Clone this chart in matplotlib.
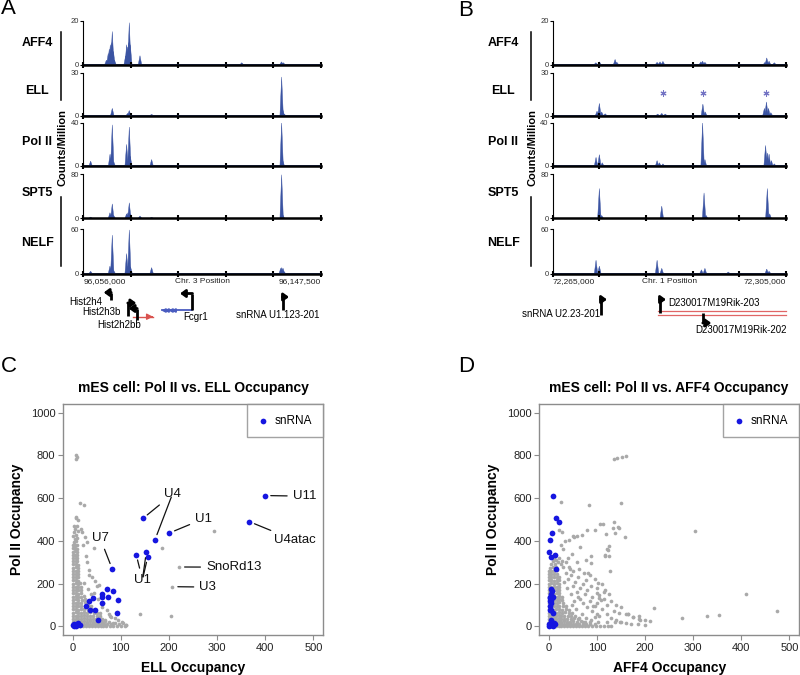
import matplotlib
matplotlib.use("Agg")
import matplotlib.pyplot as plt
from matplotlib.lines import Line2D
import numpy as np

plt.rcParams['font.family'] = ['Liberation Sans', 'DejaVu Sans']

W, H = 800, 675
TRACK_BLUE = '#3a53a2'
GRAY = '#a9a9a9'
SNRNA_BLUE = '#1616e0'
FRAME = '#8c8c8c'

# ---------------- genome browser tracks ----------------
track_names = ['AFF4', 'ELL', 'Pol II', 'SPT5', 'NELF']
track_ymax = [20, 30, 40, 80, 60]

# panel A, chr3 locus
a_start, a_end = 96056000, 96147500
a_aff4_pos = [96064900, 96065600, 96066000, 96066400, 96066800, 96067160, 96067600, 96068000,
              96072300, 96072680, 96073100, 96073400, 96073710, 96074100, 96077820,
              96117000, 96132300, 96133000]
a_aff4_val = [2, 5, 7, 9, 10, 15, 6, 2, 4, 9, 8, 10, 19, 9, 4, 0.8, 1.2, 0.8]
a_ell_pos = [96067160, 96073100, 96073700, 96082300, 96132350, 96132800, 96133300]
a_ell_val = [5, 1.5, 3.5, 0.8, 27, 4, 1]
a_pol2_pos = [96058820, 96066300, 96066700, 96067160, 96067700, 96072680, 96073710, 96074100,
              96082300, 96132350, 96132800]
a_pol2_val = [4.5, 11, 8, 38, 4, 20, 36, 9, 6, 40, 5]
a_spt5_pos = [96058820, 96066266, 96066700, 96067160, 96067700, 96072680, 96073200, 96073710,
              96074200, 96077820, 96082300, 96132350, 96132800]
a_spt5_val = [2, 10, 7, 26, 5, 8, 10, 28, 8, 4, 1.5, 79, 6]
a_nelf_pos = [96058820, 96066266, 96066700, 96067160, 96067700, 96072680, 96073200, 96073710,
              96074200, 96082300, 96132000, 96132400, 96132900, 96133300]
a_nelf_val = [3, 10, 8, 52, 4, 27, 10, 59, 9, 8, 7, 8, 7, 2]

# panel B, chr1 locus
b_start, b_end = 72265000, 72305000
b_aff4_pos = [72272400, 72273000, 72275700, 72276000, 72282900, 72283400, 72283900,
              72290400, 72290700, 72291100, 72301400, 72301700, 72302100, 72303000]
b_aff4_val = [0.8, 1.2, 2.3, 1, 1, 1.2, 1.4, 1.2, 1.5, 1, 1, 3, 1.5, 0.8]
b_ell_pos = [72272600, 72273000, 72273400, 72274000, 72283000, 72283700, 72284300,
             72290750, 72291150, 72301300, 72301650, 72302000, 72302400]
b_ell_val = [3, 8.5, 2.5, 1.2, 1, 1.5, 1, 8, 2.5, 5, 9.5, 5, 2]
b_pol2_pos = [72272430, 72273000, 72273500, 72282900, 72283300, 72283900, 72290700,
              72291100, 72301500, 72301800, 72302100, 72302500, 72303000]
b_pol2_val = [8, 10.5, 3, 5, 3, 2, 40, 6, 19, 12, 11, 5, 2]
b_spt5_pos = [72273000, 72273400, 72283700, 72290950, 72291300, 72301800, 72302200]
b_spt5_val = [54, 5, 22, 46, 5, 54, 8]
b_nelf_pos = [72272430, 72273000, 72282900, 72283700, 72290500, 72291100, 72295100,
              72301700, 72302100]
b_nelf_val = [18, 10, 18, 7, 5, 7, 2, 6, 3]
b_ell_star_pos = [72283971, 72290714, 72301571]
b_ell_star_val = [15.5, 15.5, 15.5]

# gene models
a_gene_names = ['Hist2h4', 'Hist2h3b', 'Hist2h2bb', 'Fcgr1', 'snRNA U1.123-201']
a_gene_tss = [96066546, 96073320, 96076554, 96097839, 96132865]
a_gene_strand = ['-', '+', '-', '-', '+']
a_red_body = (96075130, 96082827)
a_blue_body = (96086292, 96097839)
b_gene_names = ['snRNA U2.23-201', 'D230017M19Rik-203', 'D230017M19Rik-202']
b_gene_tss = [72273281, 72283397, 72290820]
b_gene_strand = ['+', '+', '+']
b_red_body = (72283054, 72305000)

# ---------------- scatter data ----------------
snrna_polii = [612, 490, 505, 405, 437, 336, 347, 325, 270,
               173, 166, 153, 138, 138, 125, 134, 119, 110, 97,
               78, 78, 61, 31, 8, 12, 10, 5, 3, 0, 14]
snrna_ell = [400, 367, 146, 171, 201, 132, 153, 156, 82,
             71, 83, 62, 61, 73, 95, 42, 35, 60, 28,
             47, 37, 92, 52, 16, 3, 10, 0, 6, 2, 12]
snrna_aff4 = [9, 22, 14, 3, 6, 12, 0, 4, 15,
              3.5, 7, 4, 2, 9, 5, 3, 2, 5, 3,
              2, 4, 9, 5, 6, 0, 12, 3, 8, 1, 10]

# other genes, (ELL, Pol II)
ell_gray = [
    (0, 0), (5, 1), (10, 0), (16, 2), (22, 0), (28, 1), (34, 0), (40, 2), (46, 1), (52, 0), (58, 2),
    (64, 1), (70, 0), (77, 3), (84, 1), (92, 2), (100, 4), (108, 2),
    (0, 11), (6, 12), (12, 10), (18, 11), (24, 12), (30, 10), (36, 11), (42, 12), (48, 10), (54, 12),
    (60, 11), (66, 13), (72, 10), (80, 12), (88, 14),
    (0, 23), (6, 24), (12, 22), (18, 23), (24, 24), (30, 22), (36, 24), (42, 23), (48, 22), (54, 24),
    (60, 23), (67, 25), (75, 22),
    (0, 36), (6, 37), (12, 35), (18, 36), (24, 38), (30, 36), (36, 35), (42, 37), (48, 36), (55, 38), (62, 35),
    (0, 50), (6, 51), (12, 49), (18, 50), (24, 52), (30, 50), (36, 49), (43, 51), (50, 50), (57, 48),
    (0, 65), (6, 66), (12, 64), (18, 65), (24, 67), (30, 64), (37, 66), (44, 63), (50, 65),
    (0, 80), (6, 81), (12, 79), (18, 80), (24, 82), (31, 79), (38, 81), (44, 78),
    (0, 95), (6, 96), (12, 94), (18, 95), (25, 97), (32, 94), (38, 96),
    (0, 110), (6, 111), (12, 109), (18, 110), (25, 112), (32, 108),
    (0, 125), (6, 126), (12, 124), (19, 125), (26, 127),
    (0, 140), (6, 141), (12, 139), (18, 140), (24, 142),
    (0, 155), (6, 156), (12, 154), (18, 156),
    (0, 170), (6, 171), (12, 169), (18, 171),
    (0, 185), (6, 186), (12, 184), (17, 186),
    (0, 200), (6, 201), (12, 199), (16, 202),
    (0, 215), (6, 216), (12, 214), (0, 230), (6, 231), (12, 229), (0, 245), (6, 246), (12, 244),
    (0, 260), (6, 261), (12, 259), (0, 275), (6, 276), (11, 274), (0, 290), (6, 291), (11, 289),
    (0, 305), (6, 306), (10, 304), (0, 320), (6, 321), (10, 319), (0, 335), (5, 336), (10, 334),
    (0, 350), (5, 351), (10, 349), (0, 365), (5, 366), (9, 364), (0, 380), (5, 381), (9, 379),
    (2, 395), (8, 398), (4, 410), (10, 412), (1, 425), (7, 428), (3, 440), (11, 445), (5, 455),
    (2, 470), (9, 468),
    (8, 800), (9, 790), (8, 781), (16, 578), (24, 566), (7, 514), (12, 498), (8, 508), (20, 440),
    (18, 455), (26, 420), (45, 369), (30, 395), (22, 380), (28, 330), (30, 300), (35, 265), (40, 232),
    (50, 190), (23, 203), (47, 211), (55, 195), (31, 175), (44, 156), (64, 109), (71, 78), (57, 62),
    (78, 47), (88, 39), (95, 30), (105, 15), (84, 17), (96, 10), (110, 7), (80, 46), (102, 20),
    (111, 5), (185, 369), (221, 278), (207, 186), (140, 57), (204, 50), (294, 447), (60, 90),
    (68, 30), (75, 60), (52, 130), (38, 150), (33, 240),
]

# other genes, (AFF4, Pol II)
aff4_gray = [
    (0, 0), (5, 1), (10, 0), (15, 2), (20, 0), (26, 1), (32, 0), (38, 2), (44, 1), (50, 0), (56, 2),
    (62, 1), (68, 0), (75, 2), (82, 1), (90, 3), (98, 1), (106, 2), (114, 4), (122, 2), (130, 3),
    (0, 11), (5, 12), (10, 10), (15, 11), (20, 12), (26, 10), (32, 11), (38, 12), (44, 10), (50, 12),
    (56, 11), (63, 13), (70, 10), (78, 12), (86, 11), (95, 13),
    (0, 23), (5, 24), (10, 22), (15, 23), (20, 24), (26, 22), (32, 24), (38, 23), (44, 22), (51, 24),
    (58, 23), (66, 25), (74, 22),
    (0, 36), (5, 37), (10, 35), (15, 36), (20, 38), (26, 36), (32, 35), (38, 37), (45, 36), (52, 38), (60, 35),
    (0, 50), (5, 51), (10, 49), (15, 50), (20, 52), (26, 50), (32, 49), (39, 51), (46, 50), (54, 48),
    (0, 65), (5, 66), (10, 64), (15, 65), (21, 67), (27, 64), (34, 66), (41, 63), (48, 65),
    (0, 80), (5, 81), (10, 79), (15, 80), (21, 82), (28, 79), (35, 81), (42, 78),
    (0, 95), (5, 96), (10, 94), (16, 95), (22, 97), (29, 94), (36, 96),
    (0, 110), (5, 111), (10, 109), (16, 110), (22, 112), (29, 108),
    (0, 125), (5, 126), (10, 124), (16, 125), (22, 127), (28, 124),
    (0, 140), (5, 141), (10, 139), (16, 140), (22, 142), (28, 139),
    (0, 155), (5, 156), (10, 154), (16, 156), (22, 155),
    (0, 170), (5, 171), (10, 169), (16, 171), (22, 170),
    (0, 185), (5, 186), (10, 184), (16, 186), (22, 185),
    (0, 200), (5, 201), (10, 199), (16, 202), (22, 200),
    (0, 215), (5, 216), (10, 214), (16, 215), (22, 217),
    (0, 230), (5, 231), (10, 229), (16, 230), (21, 232),
    (0, 245), (5, 246), (10, 244), (16, 246),
    (0, 260), (5, 261), (10, 259), (16, 262),
    (3, 275), (9, 278), (15, 276), (5, 290), (12, 292),
    (8, 305), (14, 310), (20, 318), (10, 322), (18, 300), (25, 290), (30, 280), (28, 305),
    (35, 300), (42, 280), (50, 260), (45, 240), (60, 230), (55, 210), (70, 200), (65, 180), (80, 170),
    (75, 150), (90, 140), (85, 120), (100, 110), (95, 95), (110, 80), (120, 60), (105, 50), (130, 40),
    (140, 30), (150, 20), (160, 15), (170, 10), (185, 12), (200, 5), (40, 320), (48, 340), (58, 300),
    (62, 270), (72, 250), (85, 240), (95, 220), (78, 215), (88, 190), (100, 180), (110, 200),
    (115, 160), (125, 150), (130, 120), (140, 100), (150, 90), (120, 100), (135, 70), (160, 60),
    (175, 45), (190, 30), (210, 25), (30, 360), (25, 380), (35, 250), (40, 220), (50, 190), (58, 160),
    (65, 130), (70, 110), (80, 90), (90, 70), (100, 60), (115, 130), (45, 150), (52, 120), (38, 180),
    (32, 210), (44, 270), (60, 140), (48, 100), (56, 80), (68, 60), (78, 40), (88, 30), (96, 45),
    (62, 40), (70, 20),
    (25, 580), (83, 569), (150, 575), (107, 478), (113, 480), (135, 489), (95, 453), (145, 458),
    (159, 419), (22, 450), (28, 442), (69, 427), (53, 419), (41, 406), (34, 400), (118, 430),
    (121, 361), (117, 330), (124, 330), (127, 258), (100, 156), (105, 133), (108, 122), (145, 63),
    (164, 56), (187, 49), (219, 88), (138, 20), (121, 20), (103, 20), (86, 20), (135, 784),
    (142, 786), (152, 790), (160, 795), (304, 447), (410, 153), (277, 39), (328, 47), (353, 55),
    (474, 72), (50, 422), (59, 425), (80, 450), (133, 461), (144, 464), (64, 372), (88, 331),
    (116, 333), (122, 356), (124, 378), (137, 437), (78, 312), (88, 297), (82, 250), (102, 203),
    (116, 169), (104, 148), (92, 94), (165, 58), (175, 44), (187, 34), (199, 28), (147, 23),
]

# labels in panel C: text, target points (ELL, Pol II)
c_label_text = ['U4', 'U1', 'U11', 'U4atac', 'U7', 'U1', 'SnoRd13', 'U3']
c_label_targets = [[(146, 505), (171, 405)], [(201, 437)], [(400, 612)], [(367, 490)],
                   [(82, 270)], [(132, 336), (153, 347), (156, 325)], [(221, 278)], [(207, 186)]]
# layout only: where each label sits
c_label_xy = [(207, 617), (254, 503), (457, 609), (418, 403), (57, 414), (145, 219), (277, 277), (263, 184)]
c_label_ha = ['center', 'left', 'left', 'left', 'center', 'center', 'left', 'left']


def fx(px):
    return px / W


def fy(py):
    return 1 - py / H


def box(px0, px1, top, bottom):
    return [px0 / W, 1 - bottom / H, (px1 - px0) / W, (bottom - top) / H]


fig = plt.figure(figsize=(8, 6.75), dpi=100)

track_rows = [(20.5, 64.5), (72.7, 115.5), (122.7, 166), (174.2, 218.2), (229.2, 273.5)]


def draw_tracks(px0, px1, start, end, positions, values, half_w, chrom, left_lab, right_lab):
    axes = []
    for i, (top, bottom) in enumerate(track_rows):
        ax = fig.add_axes(box(px0, px1, top, bottom))
        ymax = track_ymax[i]
        for p, v in zip(positions[i], values[i]):
            ax.fill([p - half_w, p, p + half_w], [0, v, 0], color=TRACK_BLUE, lw=0.3)
        ax.axhline(ymax * 0.015, color=TRACK_BLUE, lw=0.7)
        ax.set_xlim(start, end)
        ax.set_ylim(0, ymax)
        ax.spines['top'].set_visible(False)
        ax.spines['right'].set_visible(False)
        ax.spines['left'].set_linewidth(0.8)
        ax.spines['bottom'].set_linewidth(1.8)
        ax.set_yticks([0, ymax])
        ax.set_yticklabels(['0', str(ymax)])
        ax.tick_params(axis='y', length=2, width=0.8, labelsize=5.5, pad=1, labelcolor='#333333')
        ax.set_xticks(np.linspace(start, end, 6))
        ax.tick_params(axis='x', direction='inout', length=4, width=1.5, labelbottom=False)
        axes.append(ax)
    last = axes[-1]
    last.text(0, -0.19, left_lab, transform=last.transAxes, ha='left', va='center', fontsize=6, color='#222222')
    last.text(0.5, -0.19, chrom, transform=last.transAxes, ha='center', va='center', fontsize=6, color='#222222')
    last.text(1.0, -0.19, right_lab, transform=last.transAxes, ha='right', va='center', fontsize=6, color='#222222')
    return axes


def track_labels(x_name, x_bar, x_cm):
    name_y = [43, 90.7, 141.7, 193.3, 243.3]
    for name, yy in zip(track_names, name_y):
        fig.text(fx(x_name), fy(yy), name, ha='center', va='center', fontsize=9, fontweight='bold')
    for y0, y1 in [(32, 100), (197, 266)]:
        fig.add_artist(Line2D([fx(x_bar), fx(x_bar)], [fy(y0), fy(y1)], color='k', lw=1.1))
    fig.text(fx(x_cm), fy(148), 'Counts/Million', rotation=90, ha='center', va='center',
             fontsize=8, fontweight='bold')


axes_a = draw_tracks(83.3, 321, a_start, a_end,
                     [a_aff4_pos, a_ell_pos, a_pol2_pos, a_spt5_pos, a_nelf_pos],
                     [a_aff4_val, a_ell_val, a_pol2_val, a_spt5_val, a_nelf_val],
                     650, 'Chr. 3 Position', '96,056,000', '96,147,500')
axes_b = draw_tracks(552.7, 786, b_start, b_end,
                     [b_aff4_pos, b_ell_pos, b_pol2_pos, b_spt5_pos, b_nelf_pos],
                     [b_aff4_val, b_ell_val, b_pol2_val, b_spt5_val, b_nelf_val],
                     290, 'Chr. 1 Position', '72,265,000', '72,305,000')
axes_b[1].scatter(b_ell_star_pos, b_ell_star_val, marker=(6, 2, 0), s=14, color='#7474c4', lw=0.8)
track_labels(37, 61, 62)
track_labels(503, 530.7, 532)

# ---------------- gene models ----------------


def gene_axes(px0, px1, start, end):
    ax = fig.add_axes(box(px0, px1, 280, 340))
    ax.set_xlim(start, end)
    ax.set_ylim(340, 280)   # y measured in figure pixels
    ax.axis('off')
    return ax


def tss_arrow(ax, x, y_base, y_arm, arm_px, strand, bp_per_px):
    d = 1 if strand == '+' else -1
    ax.plot([x, x], [y_base, y_arm], color='k', lw=2.0, solid_capstyle='butt', clip_on=False)
    ax.annotate('', xy=(x + d * arm_px * bp_per_px, y_arm), xytext=(x - d * 0.5 * bp_per_px, y_arm),
                arrowprops=dict(arrowstyle='-|>,head_length=0.3,head_width=0.22', lw=2.0,
                                color='k', shrinkA=0, shrinkB=0), annotation_clip=False)


ga = gene_axes(83.3, 321, a_start, a_end)
bpa = (a_end - a_start) / (321 - 83.3)
ga.plot(a_red_body, [316.7, 316.7], color='#d9534f', lw=1)
ga.annotate('', xy=(a_red_body[1], 316.7), xytext=(a_red_body[1] - 4 * bpa, 316.7),
            arrowprops=dict(arrowstyle='-|>,head_length=0.35,head_width=0.18', color='#d9534f', lw=1))
ga.plot(a_blue_body, [310, 310], color='#4a5cc0', lw=1.3)
ga.plot(np.linspace(a_blue_body[0] + 2 * bpa, a_blue_body[0] + 12 * bpa, 4), [310] * 4,
        ls='none', marker='<', ms=2.5, color='#4a5cc0')
a_arrow_layout = [(300, 292.5, 7), (316, 303, 8), (320, 308.5, 8), (310, 293.5, 12), (310, 297, 6)]
for tss, strand, (yb, ya, arm) in zip(a_gene_tss, a_gene_strand, a_arrow_layout):
    tss_arrow(ga, tss, yb, ya, arm, strand, bpa)

gb = gene_axes(552.7, 786, b_start, b_end)
bpb = (b_end - b_start) / (786 - 552.7)
for yy in (310.7, 315):
    gb.plot(b_red_body, [yy, yy], color='#e06666', lw=0.9, clip_on=False)
b_arrow_layout = [(315, 299.5, 6), (312.5, 299.5, 6), (312.5, 323, 8)]
for tss, strand, (yb, ya, arm) in zip(b_gene_tss, b_gene_strand, b_arrow_layout):
    tss_arrow(gb, tss, yb, ya, arm, strand, bpb)

gene_label_xy = [(69, 301.7), (82, 311.7), (97, 325), (183, 317), (236, 315)]
for name, (px, py) in zip(a_gene_names, gene_label_xy):
    fig.text(fx(px), fy(py), name, ha='left', va='center', fontsize=7)
gene_label_xy_b = [(521.7, 314), (668, 302.7), (695, 330)]
for name, (px, py) in zip(b_gene_names, gene_label_xy_b):
    fig.text(fx(px), fy(py), name, ha='left', va='center', fontsize=7)

# ---------------- scatter panels ----------------


def scatter_panel(ax, pts, sx, sy, title, xlabel):
    gx = [p[0] for p in pts]
    gy = [p[1] for p in pts]
    ax.scatter(gx, gy, s=7, color=GRAY, linewidths=0, zorder=2)
    ax.scatter(sx, sy, s=17, color=SNRNA_BLUE, linewidths=0, zorder=3, label='snRNA')
    ax.set_xlim(-20, 520)
    ax.set_ylim(-40, 1040)
    ax.set_xticks(range(0, 501, 100))
    ax.set_yticks(range(0, 1001, 200))
    for sp in ax.spines.values():
        sp.set_color(FRAME)
        sp.set_linewidth(1)
    ax.tick_params(length=3.5, width=0.8, color=FRAME, labelsize=8, labelcolor='#222222', pad=2)
    ax.set_title(title, fontsize=10, fontweight='bold', pad=9)
    ax.set_xlabel(xlabel, fontsize=10, fontweight='bold', labelpad=6)
    ax.set_ylabel('Pol II Occupancy', fontsize=10, fontweight='bold', labelpad=5)
    leg = ax.legend(loc='upper right', borderaxespad=0, fancybox=False, edgecolor=FRAME,
                    fontsize=8.5, handletextpad=0.5, borderpad=0.9, handlelength=1.0)
    leg.get_frame().set_linewidth(1)


ax_c = fig.add_axes(box(63, 323, 404, 635))
scatter_panel(ax_c, ell_gray, snrna_ell, snrna_polii, 'mES cell: Pol II vs. ELL Occupancy', 'ELL Occupancy')
for text, targets, (tx, ty), ha in zip(c_label_text, c_label_targets, c_label_xy, c_label_ha):
    for k, (px, py) in enumerate(targets):
        ax_c.annotate(text if k == 0 else '', xy=(px, py), xytext=(tx, ty), ha=ha, va='center',
                      fontsize=9.5, color='#111111',
                      arrowprops=dict(arrowstyle='-', color='#111111', lw=0.9, shrinkA=2, shrinkB=4))

ax_d = fig.add_axes(box(539.3, 799, 404, 635))
scatter_panel(ax_d, aff4_gray, snrna_aff4, snrna_polii, 'mES cell: Pol II vs. AFF4 Occupancy', 'AFF4 Occupancy')

for letter, (px, py) in zip('ABCD', [(8, 9), (466, 10), (9, 366), (466, 366)]):
    fig.text(fx(px), fy(py), letter, ha='center', va='center', fontsize=16)

fig.savefig('out.png', dpi=100)
